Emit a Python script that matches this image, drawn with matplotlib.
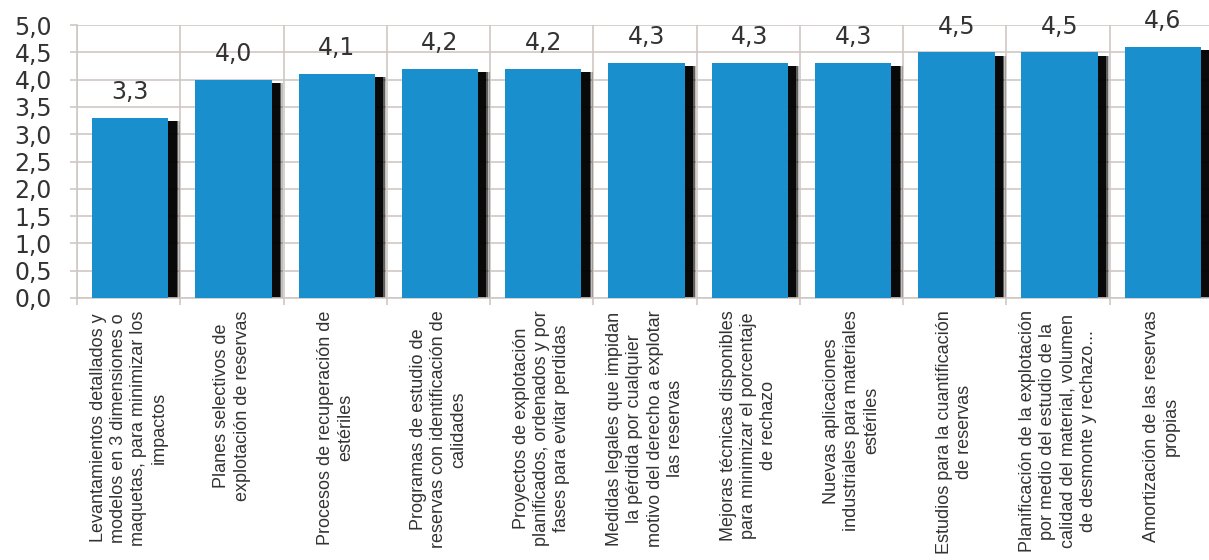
import matplotlib
matplotlib.use("Agg")
import matplotlib.pyplot as plt
from matplotlib.ticker import FuncFormatter, MultipleLocator

labels = [
    "Levantamientos detallados y\nmodelos en 3 dimensiones o\nmaquetas, para minimizar los\nimpactos",
    "Planes selectivos de\nexplotación de reservas",
    "Procesos de recuperación de\nestériles",
    "Programas de estudio de\nreservas con identificación de\ncalidades",
    "Proyectos de explotación\nplanificados, ordenados y por\nfases para evitar perdidas",
    "Medidas legales que impidan\nla pérdida por cualquier\nmotivo del derecho a explotar\nlas reservas",
    "Mejoras técnicas disponibles\npara minimizar el porcentaje\nde rechazo",
    "Nuevas aplicaciones\nindustriales para materiales\nestériles",
    "Estudios para la cuantificación\nde reservas",
    "Planificación de la explotación\npor medio del estudio de la\ncalidad del material, volumen\nde desmonte y rechazo...",
    "Amortización de las reservas\npropias",
]
values = [3.3, 4.0, 4.1, 4.2, 4.2, 4.3, 4.3, 4.3, 4.5, 4.5, 4.6]

blue = "#1a8fcd"
grid_col = "#cfc7c3"
text_col = "#333333"

fig = plt.figure(figsize=(12.09, 5.6), dpi=100)
ax = fig.add_axes([77 / 1209, 1 - 298 / 560, 1136 / 1209, 273 / 560])

x = list(range(len(values)))
w = 0.74
off = 0.015

# soft drop shadow behind each bar
for k, a in [(0.11, 0.25), (0.095, 0.5), (0.08, 0.9)]:
    ax.bar([i + off + k for i in x], [v - 0.06 for v in values], width=w,
           color="black", alpha=a, zorder=2, linewidth=0)
ax.bar([i + off for i in x], values, width=w, color=blue, zorder=3,
       linewidth=0)

for i, v in zip(x, values):
    ax.annotate(f"{v:.1f}".replace(".", ","), (i + off, v),
                xytext=(0, 13.5), textcoords="offset points",
                ha="center", va="baseline", fontsize=17,
                color=text_col, annotation_clip=False, family="DejaVu Sans")
    ax.annotate(labels[i], (i, 0), xytext=(0, -9), textcoords="offset points",
                ha="center", va="top", rotation=90, multialignment="center",
                fontsize=13, linespacing=1.25, color=text_col,
                family="Liberation Sans", annotation_clip=False)

ax.set_xlim(-0.5, len(values) - 0.5)
ax.set_ylim(0, 5)
ax.yaxis.set_major_locator(MultipleLocator(0.5))
ax.yaxis.set_major_formatter(FuncFormatter(lambda v, p: f"{v:.1f}".replace(".", ",")))
ax.set_xticks([i - 0.5 for i in range(len(values) + 1)])
ax.set_xticklabels([])
ax.grid(True, color=grid_col, linewidth=1.2, zorder=0)
ax.set_axisbelow(True)
ax.tick_params(axis="y", length=5, color=grid_col, pad=13, labelsize=17,
               labelcolor=text_col, width=1.2)
ax.tick_params(axis="x", length=5, color=grid_col, width=1.2)
for s in ["top", "right"]:
    ax.spines[s].set_visible(False)
for s in ["left", "bottom"]:
    ax.spines[s].set_color(grid_col)
    ax.spines[s].set_linewidth(1.2)

fig.savefig("out.png", dpi=100, facecolor="white")
